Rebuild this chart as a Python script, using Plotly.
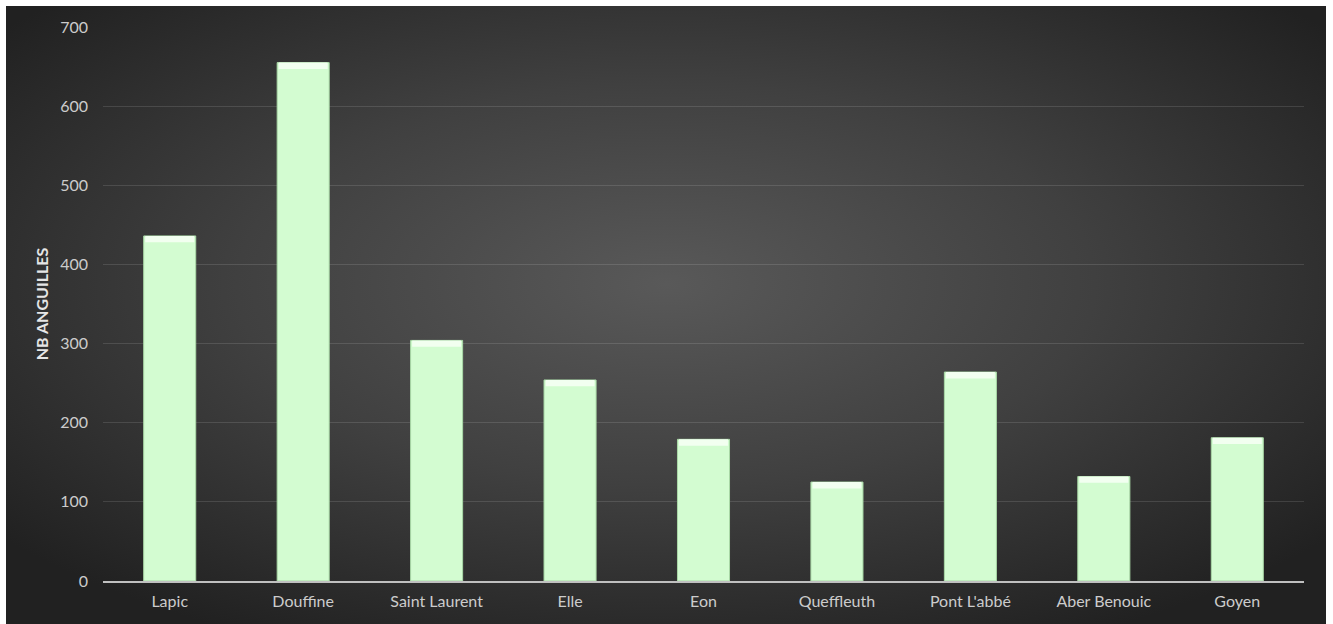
import plotly.graph_objects as go

# Eel counts per river
rivers = ["Lapic", "Douffine", "Saint Laurent", "Elle", "Eon",
          "Queffleuth", "Pont L'abbé", "Aber Benouic", "Goyen"]
nb_anguilles = [436, 655, 304, 254, 179, 125, 264, 132, 181]

y_ticks = [0, 100, 200, 300, 400, 500, 600, 700]

W, H = 1333, 624
L, R, T, B = 103, 29, 27, 43
plot_w = W - L - R
plot_h = H - T - B

# Dark radial-gradient backdrop
bg_svg = (
    "<svg xmlns='http://www.w3.org/2000/svg' width='1320' height='618'>"
    "<defs><radialGradient id='g' cx='50%' cy='45%' r='65%'>"
    "<stop offset='0%' stop-color='#595959'/>"
    "<stop offset='50%' stop-color='#404040'/>"
    "<stop offset='100%' stop-color='#212121'/>"
    "</radialGradient></defs>"
    "<rect width='100%' height='100%' fill='url(#g)'/></svg>"
)
bg_src = "data:image/svg+xml;utf8," + bg_svg.replace("#", "%23").replace("<", "%3C").replace(">", "%3E")

x0_px, x1_px, y0_px, y1_px = 6, 1326, 6, 624
img_x = (x0_px - L) / plot_w
img_y = (H - B - y0_px) / plot_h
img_sx = (x1_px - x0_px) / plot_w
img_sy = (y1_px - y0_px) / plot_h

bar_width = 0.39
bevel = 8

fig = go.Figure()
fig.add_trace(go.Bar(
    x=rivers, y=nb_anguilles, width=bar_width,
    marker=dict(color="#d3fcd1", line=dict(color="#a9d8a6", width=1)),
    hoverinfo="x+y", showlegend=False,
))
# pale bevel highlight on the top of each bar
fig.add_trace(go.Bar(
    x=rivers, y=[bevel] * len(rivers),
    base=[v - bevel for v in nb_anguilles], width=bar_width * 0.94,
    marker=dict(color="#f2fff0", line=dict(width=0)),
    hoverinfo="skip", showlegend=False,
))

fig.update_layout(
    width=W, height=H,
    margin=dict(l=L, r=R, t=T, b=B),
    paper_bgcolor="white",
    plot_bgcolor="rgba(0,0,0,0)",
    barmode="overlay",
    font=dict(family="Lato, 'Open Sans', sans-serif", color="#cccccc"),
    images=[dict(
        source=bg_src, xref="paper", yref="paper",
        x=img_x, y=img_y, sizex=img_sx, sizey=img_sy,
        xanchor="left", yanchor="top", sizing="stretch", layer="below",
    )],
    xaxis=dict(
        showgrid=False, showline=True, linecolor="#c0c0c0", linewidth=1.5,
        tickfont=dict(size=16, color="#cccccc"), ticks="", ticklabelstandoff=5,
    ),
    yaxis=dict(
        range=[0, 700], tickvals=y_ticks, showgrid=True,
        gridcolor="rgba(255,255,255,0.12)", gridwidth=1, zeroline=False,
        tickfont=dict(size=16, color="#cccccc"), ticks="", ticklabelstandoff=14,
        title=dict(text="<b>NB ANGUILLES</b>", font=dict(size=16, color="#e6e6e6"),
                   standoff=7),
    ),
)

fig.write_html("out.html")
